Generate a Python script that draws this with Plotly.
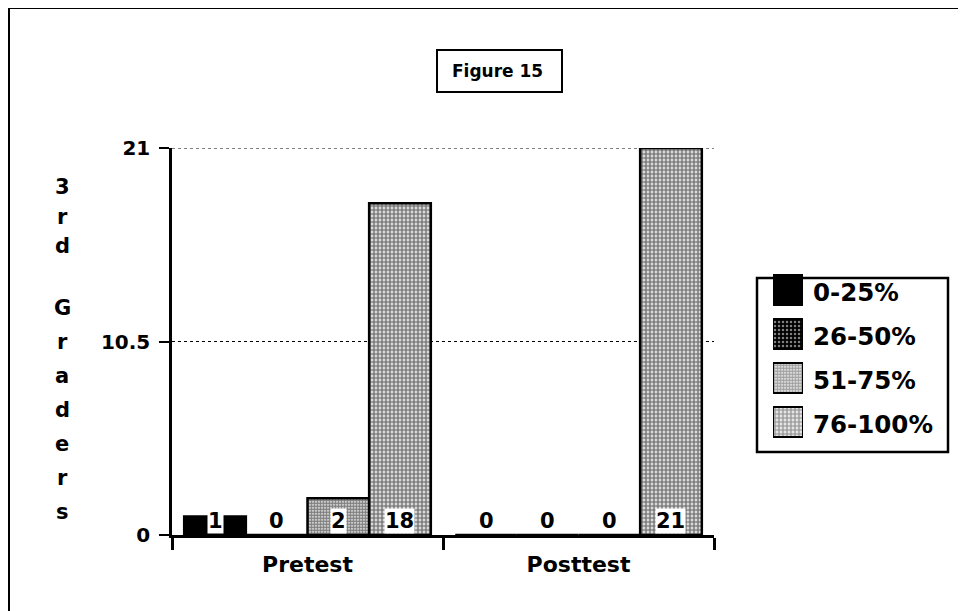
import plotly.graph_objects as go

# ---------------- data ----------------
categories = ["Pretest", "Posttest"]
series_names = ["0-25%", "26-50%", "51-75%", "76-100%"]
v_0_25 = [1, 0]
v_26_50 = [0, 0]
v_51_75 = [2, 0]
v_76_100 = [18, 21]
series_values = [v_0_25, v_26_50, v_51_75, v_76_100]
y_ticks = [0, 10.5, 21]
y_tick_labels = ["0", "10.5", "21"]
y_title = "3rd Graders"
chart_title = "Figure 15"

# ---------------- styles ----------------
W, H = 966, 611
OFF = 8  # page body margin offset
FONT = "DejaVu Sans"
patterns = [
    dict(shape="", fgcolor="black", bgcolor="black"),
    dict(shape=".", fgcolor="white", bgcolor="black", size=4, solidity=0.3),
    dict(shape=".", fgcolor="black", bgcolor="white", size=3, solidity=0.78),
    dict(shape=".", fgcolor="black", bgcolor="white", size=4, solidity=0.72),
]
bar_colors = ["black", "black", "white", "white"]
BARGAP = 0.09
title_letter_y = [187, 217, 246, None, 308, 342, 376, 410, 444, 478, 512]


def px(x):
    return (x - OFF) / W


def py(y):
    return 1 - (y - OFF) / H


fig = go.Figure()

for name, vals, pat, col in zip(series_names, series_values, patterns, bar_colors):
    fig.add_trace(go.Bar(
        x=categories, y=vals, name=name,
        marker=dict(color=col, pattern=pat, line=dict(color="black", width=2.5)),
        showlegend=False, hoverinfo="skip",
        xaxis="x", yaxis="y",
    ))

# legend swatches drawn as bars on their own small axes
fig.add_trace(go.Bar(
    y=series_names, x=[1] * len(series_names), orientation="h",
    width=0.68,
    marker=dict(
        color=bar_colors,
        pattern=dict(
            shape=[p["shape"] for p in patterns],
            fgcolor=[p["fgcolor"] for p in patterns],
            bgcolor=[p["bgcolor"] for p in patterns],
            size=[p.get("size", 4) for p in patterns],
            solidity=[p.get("solidity", 0.5) for p in patterns],
        ),
        line=dict(color="black", width=2),
    ),
    showlegend=False, hoverinfo="skip",
    xaxis="x2", yaxis="y2",
))

annotations = []
# value labels at the base of each bar
n = len(series_names)
w = (1 - BARGAP) / n
for i, cat in enumerate(categories):
    for j, vals in enumerate(series_values):
        v = vals[i]
        annotations.append(dict(
            x=i + (j - (n - 1) / 2) * w, y=0, xref="x", yref="y",
            text=str(v), showarrow=False, yanchor="bottom", yshift=1,
            font=dict(family=FONT, size=21, color="black", weight="bold"),
            bgcolor="white" if v > 0 else "rgba(0,0,0,0)", borderpad=0,
        ))

# legend labels
leg_centers = [292, 336, 380, 424]
for name, yc in zip(series_names, leg_centers):
    annotations.append(dict(
        x=px(811), y=py(yc), xref="paper", yref="paper", text=name,
        showarrow=False, xanchor="left", yanchor="middle",
        font=dict(family=FONT, size=24.5, color="black", weight="bold"),
    ))

# vertical stacked y title
for ch, yl in zip(y_title, title_letter_y):
    if yl is not None and ch.strip():
        annotations.append(dict(
            x=px(62), y=py(yl), xref="paper", yref="paper",
            text=ch, showarrow=False, xanchor="center", yanchor="middle",
            font=dict(family=FONT, size=21, color="black", weight="bold"),
        ))

# title text
annotations.append(dict(
    x=px(497), y=py(71), xref="paper", yref="paper", text=chart_title,
    showarrow=False, xanchor="center", yanchor="middle",
    font=dict(family=FONT, size=17, color="black", weight="bold"),
))

shapes = [
    # outer frame
    dict(type="line", xref="paper", yref="paper", x0=px(9), x1=px(980), y0=py(8), y1=py(8),
         line=dict(color="black", width=2)),
    dict(type="line", xref="paper", yref="paper", x0=px(9), x1=px(9), y0=py(8), y1=py(640),
         line=dict(color="black", width=2)),
    # title box
    dict(type="rect", xref="paper", yref="paper", x0=px(437), x1=px(562), y0=py(50), y1=py(92),
         line=dict(color="black", width=2)),
    # legend box
    dict(type="rect", xref="paper", yref="paper", x0=px(757), x1=px(948), y0=py(278), y1=py(452),
         line=dict(color="black", width=2.5)),
    # dotted grid line at the top tick (range edge)
    dict(type="line", xref="x domain", yref="y", x0=0, x1=1, y0=y_ticks[-1], y1=y_ticks[-1],
         line=dict(color="black", width=1, dash="dot")),
]

fig.update_layout(
    width=W, height=H,
    margin=dict(l=0, r=0, t=0, b=0, pad=0, autoexpand=False),
    paper_bgcolor="white", plot_bgcolor="white",
    barmode="group", bargap=BARGAP, bargroupgap=0,
    font=dict(family=FONT, color="black"),
    xaxis=dict(
        domain=[px(172), px(714)], type="category", range=[-0.5, 1.5],
        showline=True, linecolor="black", linewidth=2.5,
        ticks="outside", tickson="boundaries", ticklen=12, tickwidth=2.5, tickcolor="black",
        ticklabelstandoff=8,
        tickfont=dict(family=FONT, size=22, color="black", weight="bold"),
        showgrid=False, zeroline=False, fixedrange=True, automargin=False,
    ),
    yaxis=dict(
        domain=[py(535), py(148)], range=[0, 21],
        tickvals=y_ticks, ticktext=y_tick_labels,
        showline=True, linecolor="black", linewidth=2.5,
        ticks="outside", ticklen=10, tickwidth=2, tickcolor="black",
        ticklabelstandoff=5,
        tickfont=dict(family=FONT, size=20, color="black", weight="bold"),
        showgrid=True, gridcolor="black", griddash="dot", gridwidth=1,
        zeroline=False, fixedrange=True, automargin=False,
    ),
    xaxis2=dict(domain=[px(773), px(803)], range=[0, 1], anchor="y2",
                visible=False, fixedrange=True),
    yaxis2=dict(domain=[py(444), py(268)], anchor="x2", type="category",
                categoryorder="array", categoryarray=series_names,
                autorange="reversed", visible=False, fixedrange=True),
    annotations=annotations,
    shapes=shapes,
)

fig.write_html("out.html")
